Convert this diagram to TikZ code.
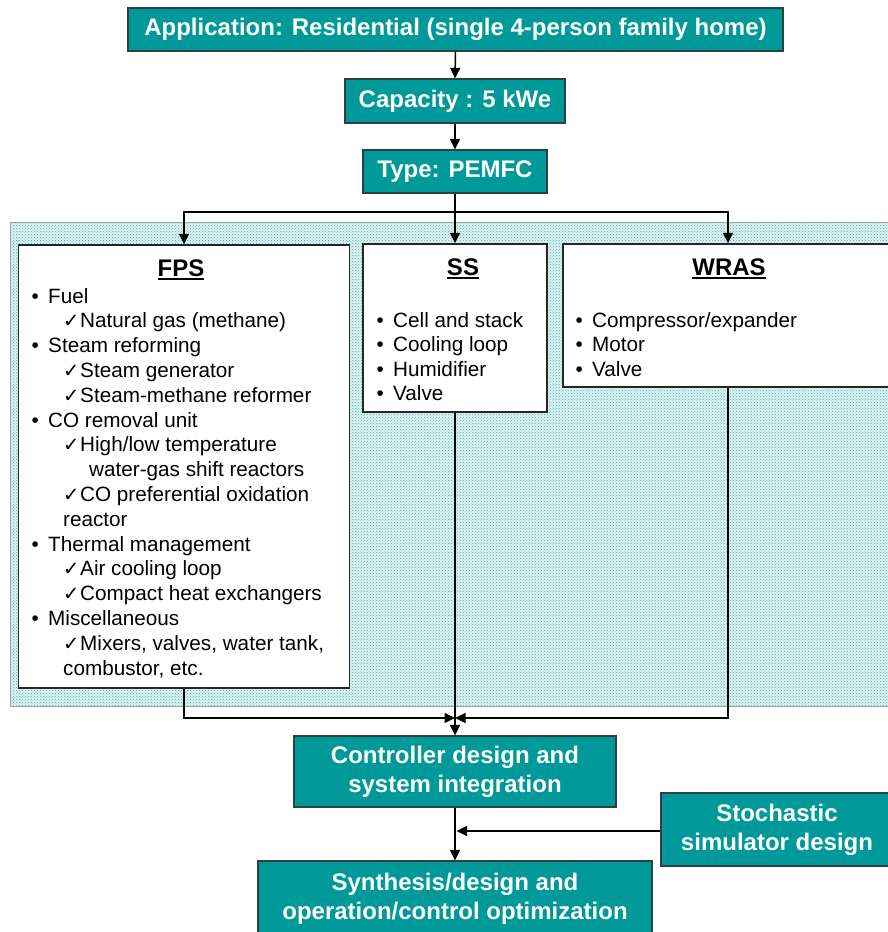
\documentclass[tikz,border=0pt]{standalone}
\usepackage{fontspec}
\setmainfont{Liberation Sans}
\newfontfamily\symfont{DejaVu Sans}
\usetikzlibrary{arrows.meta,patterns}
\definecolor{tealfill}{RGB}{0,153,153}
\definecolor{tealborder}{RGB}{45,65,65}
\definecolor{dotcol}{RGB}{70,180,180}
\definecolor{bgfill}{RGB}{222,242,242}
\newcommand\thickul[1]{\leavevmode\vtop{\hbox{#1}\kern1.6pt\hrule height 2.4pt}}
\newcommand\chk{\makebox[16pt][l]{\kern-1pt\symfont\fontsize{19.5}{19.5}\selectfont ✓}}
\newcommand\bul{\makebox[16.5pt][l]{•}}
\begin{document}
\begin{tikzpicture}[x=1pt,y=-1pt,
  tealbox/.style={draw=tealborder, line width=1.2pt, fill=tealfill, text=white,
    font=\fontsize{24}{29}\selectfont\bfseries, align=center, inner sep=0pt},
  wbox/.style={draw=black!85, line width=1.5pt, fill=white, inner sep=0pt},
  body/.style={anchor=base west, inner sep=0pt, font=\fontsize{20.7}{25}\selectfont},
  ttl/.style={anchor=base, inner sep=0pt, font=\fontsize{24}{24}\selectfont\bfseries},
  conn/.style={line width=1.5pt, black},
  arr/.style={conn, -{Triangle[length=10.5pt,width=10pt]}}]
\useasboundingbox (0,0) rectangle (888,932);
\clip (0,0) rectangle (888,932);

% dotted background panel
\node[draw=none, fill=bgfill, minimum width=890pt, minimum height=483.5pt, inner sep=0pt] (bg) at (455.5,464.75) {};
\fill[pattern=crosshatch dots, pattern color=dotcol] (bg.north west) rectangle (bg.south east);
\draw[gray!75, line width=1pt] (bg.north west) rectangle (bg.south east);

% top chain
\node[tealbox, minimum width=655pt, minimum height=43pt] (app) at (455.5,29.5) {Application: Residential (single 4-person family home)};
\node[tealbox, minimum width=220pt, minimum height=44pt] (cap) at (455,101) {Capacity : 5 kWe};
\node[tealbox, minimum width=184pt, minimum height=43pt] (type) at (455,171.5) {Type: PEMFC};

% white boxes
\node[wbox, minimum width=331pt, minimum height=443pt] (fps) at (184,466.5) {};
\node[wbox, minimum width=184pt, minimum height=168pt] (ss) at (455,328) {};
\node[wbox, minimum width=330pt, minimum height=143pt] (wras) at (728,315.5) {};

% titles
\node[ttl] (tfps) at (181,276) {\thickul{FPS}};
\node[ttl] (tss) at (463,275) {\thickul{SS}};
\node[ttl] (twras) at (729,275) {\thickul{WRAS}};

% FPS contents
\node[body] (f1) at (31.5,303) {\bul Fuel};
\node[body] (f2) at (64,327.8) {\chk Natural gas (methane)};
\node[body] (f3) at (31.5,352.6) {\bul Steam reforming};
\node[body] (f4) at (64,377.4) {\chk Steam generator};
\node[body] (f5) at (64,402.2) {\chk Steam-methane reformer};
\node[body] (f6) at (31.5,427) {\bul CO removal unit};
\node[body] (f7) at (64,451.8) {\chk High/low temperature};
\node[body] (f8) at (89,476.6) {water-gas shift reactors};
\node[body] (f9) at (64,501.4) {\chk CO preferential oxidation};
\node[body] (f10) at (63,526.2) {reactor};
\node[body] (f11) at (31.5,551) {\bul Thermal management};
\node[body] (f12) at (64,575.8) {\chk Air cooling loop};
\node[body] (f13) at (64,600.6) {\chk Compact heat exchangers};
\node[body] (f14) at (31.5,625.4) {\bul Miscellaneous};
\node[body] (f15) at (64,650.2) {\chk Mixers, valves, water tank,};
\node[body] (f16) at (63,675) {combustor, etc.};

% SS contents
\node[body] (s1) at (376.5,327) {\bul Cell and stack};
\node[body] (s2) at (376.5,351.6) {\bul Cooling loop};
\node[body] (s3) at (376.5,376.2) {\bul Humidifier};
\node[body] (s4) at (376.5,400.8) {\bul Valve};

% WRAS contents
\node[body] (w1) at (575.5,327) {\bul Compressor/expander};
\node[body] (w2) at (575.5,351.6) {\bul Motor};
\node[body] (w3) at (575.5,376.2) {\bul Valve};

% bottom boxes
\node[tealbox, minimum width=322pt, minimum height=71pt] (ctrl) at (455,771.5) {Controller design and\\system integration};
\node[tealbox, minimum width=232pt, minimum height=73pt] (stoch) at (777,829.5) {Stochastic\\simulator design};
\node[tealbox, minimum width=394pt, minimum height=76pt] (synth) at (455,899) {Synthesis/design and\\operation/control optimization};

% connectors
\draw[arr] (app.south) -- (cap.north);
\draw[arr] (cap.south) -- (type.north);
\coordinate (br) at (455,212);
\draw[conn] (type.south) -- (br);
\draw[arr] (br) -| (fps.north);
\draw[arr] (br) -| (wras.north);
\draw[arr] (br) -- (ss.north);

\coordinate (jn) at (455,718);
\draw[arr] (fps.south) |- (jn);
\draw[arr] (wras.south) |- (jn);
\draw[arr] (ss.south) -- (ctrl.north);

\coordinate (mj) at (456.5,831);
\draw[arr] (ctrl.south) -- (synth.north);
\draw[arr] (stoch.west |- mj) -- (mj);
\end{tikzpicture}
\end{document}
